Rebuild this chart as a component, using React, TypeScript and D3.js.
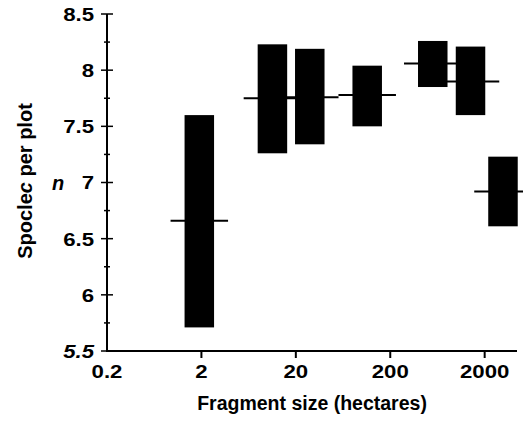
import * as d3 from 'd3'

// fragment sizes (ha) at which each bar is centred
const sizes = [1.9, 11.3, 28.1, 114, 564, 1416, 3126]
// top and bottom of each bar, species per plot
const upper = [7.6, 8.23, 8.19, 8.04, 8.26, 8.21, 7.23]
const lower = [5.71, 7.26, 7.34, 7.5, 7.85, 7.6, 6.61]
// mean marks crossing each bar
const means = [6.66, 7.75, 7.76, 7.78, 8.06, 7.9, 6.92]

const yTicks = [5.5, 6, 6.5, 7, 7.5, 8, 8.5]
const yTickLabels = ['5.5', '6', '6.5', '7', '7.5', '8', '8.5']
const yMinor = [5.75, 6.25, 6.75, 7.25, 7.75, 8.25]
const xTicks = [0.2, 2, 20, 200, 2000]
const xTickLabels = ['0.2', '2', '20', '200', '2000']

const W = 523
const H = 422
const font = 'Arial, "Liberation Sans", Helvetica, sans-serif'

const App = () => {
  const x = d3.scaleLog().domain([0.2, 4400]).range([107, 517])
  const y = d3.scaleLinear().domain([5.5, 8.5]).range([351, 14])
  const barW = 29.5
  const ext = 14
  // the scanned labels are a bit wider than they are tall
  const stretch = 'scale(1.17,1)'

  return (
    <svg
      width={W}
      height={H}
      style={{ position: 'absolute', left: 0, top: 0, background: '#fff' }}
      fontFamily={font}
      fontWeight="bold"
    >
      {/* bars */}
      {sizes.map((s, i) => (
        <rect
          key={'b' + i}
          x={x(s) - barW / 2}
          y={y(upper[i])}
          width={barW}
          height={y(lower[i]) - y(upper[i])}
          fill="#000"
        />
      ))}
      {/* means */}
      {sizes.map((s, i) => (
        <line
          key={'m' + i}
          x1={x(s) - barW / 2 - ext}
          x2={x(s) + barW / 2 + ext}
          y1={y(means[i])}
          y2={y(means[i])}
          stroke="#000"
          strokeWidth={2}
        />
      ))}

      {/* y axis */}
      <line x1={107} x2={107} y1={y(8.5)} y2={y(5.5)} stroke="#000" strokeWidth={2} />
      {yTicks.map((t, i) => (
        <g key={'yt' + i}>
          <line x1={101} x2={t === 5.5 ? 107 : 113} y1={y(t)} y2={y(t)} stroke="#000" strokeWidth={1.5} />
          <text
            transform={`translate(94,${y(t)}) ${stretch}`}
            dy="0.36em"
            textAnchor="end"
            fontSize={19}
            fontStyle={t === 5.5 ? 'italic' : 'normal'}
          >
            {yTickLabels[i]}
          </text>
        </g>
      ))}
      {yMinor.map((t, i) => (
        <line key={'ym' + i} x1={104} x2={110} y1={y(t)} y2={y(t)} stroke="#000" strokeWidth={1.5} />
      ))}

      {/* x axis */}
      <line x1={106} x2={517} y1={351} y2={351} stroke="#000" strokeWidth={2} />
      {xTicks.map((t, i) => (
        <g key={'xt' + i}>
          {i > 0 && <line x1={x(t)} x2={x(t)} y1={351} y2={358} stroke="#000" strokeWidth={2} />}
          <text transform={`translate(${x(t)},378) ${stretch}`} textAnchor="middle" fontSize={19}>
            {xTickLabels[i]}
          </text>
        </g>
      ))}

      {/* titles */}
      <text x={312} y={410} textAnchor="middle" fontSize={19.5}>
        Fragment size  (hectares)
      </text>
      <text
        transform="translate(32,181) rotate(-90)"
        textAnchor="middle"
        fontSize={20}
      >
        Spocle<tspan fontStyle="italic">c</tspan> per plot
      </text>
      <text x={58} y={y(7)} dy="0.36em" textAnchor="middle" fontSize={20} fontStyle="italic">
        n
      </text>
    </svg>
  )
}

export default App
